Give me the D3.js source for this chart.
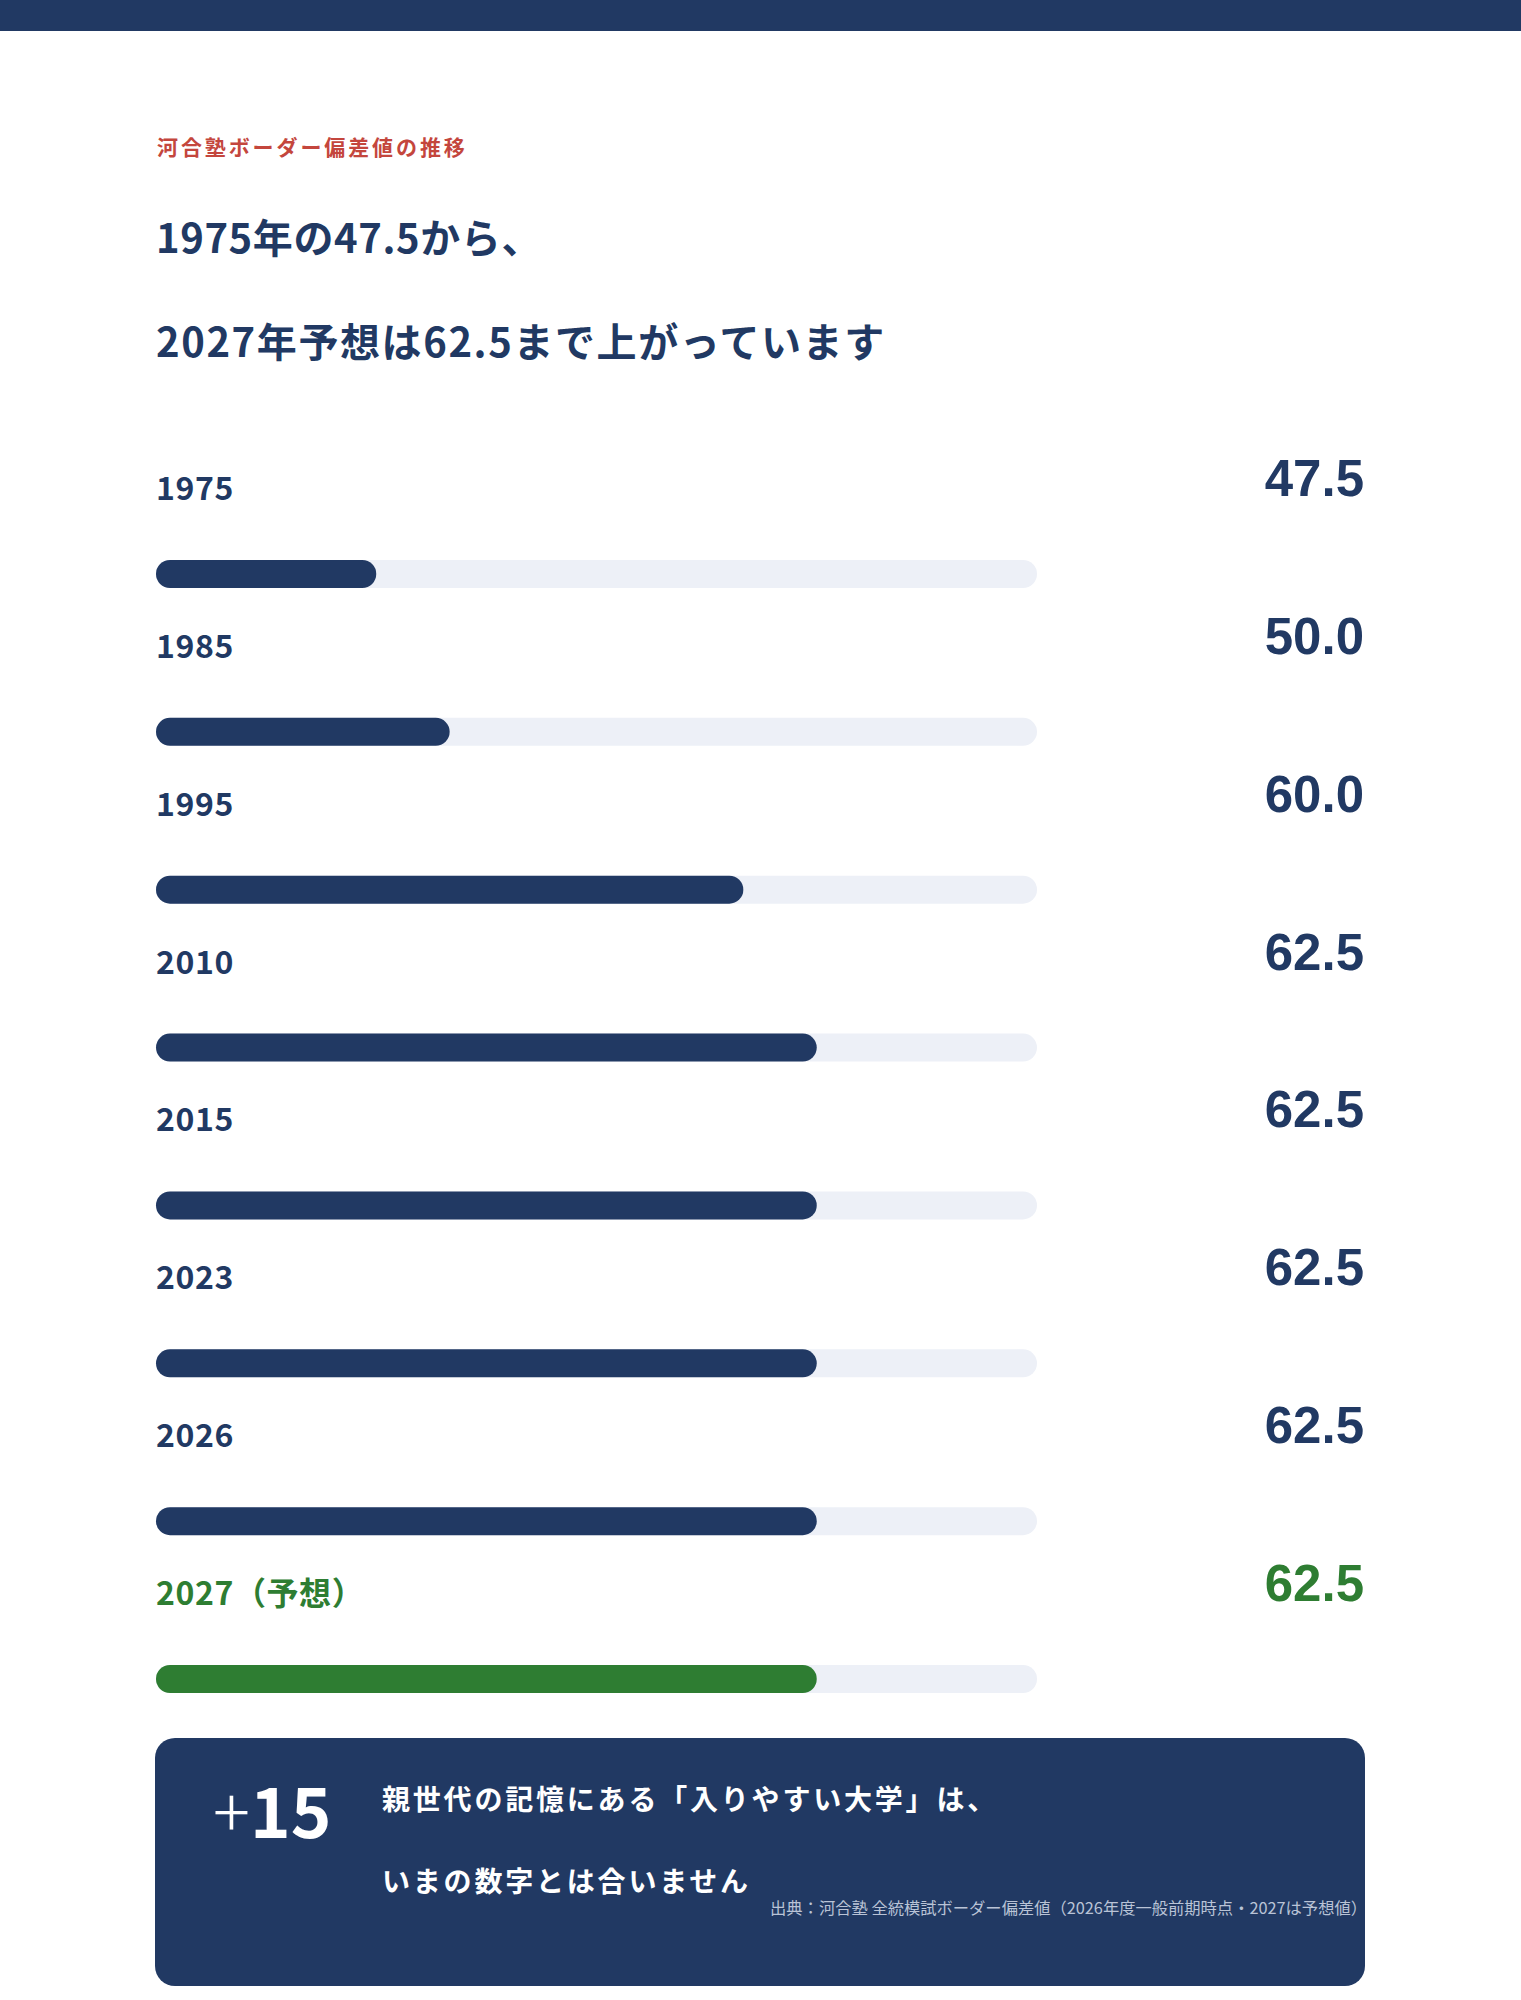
<!DOCTYPE html>
<html>
<head>
<meta charset="utf-8">
<script src="https://cdn.jsdelivr.net/npm/d3@7"></script>
<style>
  body { margin: 0; background: #fff; }
  svg { display: block; }
  text { font-family: "Noto Sans CJK JP", "Noto Sans", sans-serif; }
</style>
</head>
<body>
<div id="chart"></div>
<script>
// data
var years  = ["1975", "1985", "1995", "2010", "2015", "2023", "2026", "2027（予想）"];
var values = [47.5, 50.0, 60.0, 62.5, 62.5, 62.5, 62.5, 62.5];
var forecast = [false, false, false, false, false, false, false, true];

var eyebrow = "河合塾ボーダー偏差値の推移";
var headline = ["1975年の47.5から、", "2027年予想は62.5まで上がっています"];
var calloutBig = "15";
var calloutText = ["親世代の記憶にある「入りやすい大学」は、", "いまの数字とは合いません"];
var sourceText = "出典：河合塾 全統模試ボーダー偏差値（2026年度一般前期時点・2027は予想値）";

var W = 1521, H = 2000;
var navy = "#213963", green = "#2e7d32", track = "#edf0f7", red = "#c4463d";

var svg = d3.select("#chart")
  .append("svg")
    .attr("width", W)
    .attr("height", H);

// top band
svg.append("rect")
  .attr("x", 0).attr("y", 0)
  .attr("width", W).attr("height", 31)
  .attr("fill", navy);

// eyebrow + headline
svg.append("text")
  .attr("x", 157).attr("y", 155)
  .attr("font-size", 21)
  .attr("font-weight", 700)
  .attr("letter-spacing", 2.9)
  .attr("fill", red)
  .text(eyebrow);

svg.selectAll("text.head")
  .data(headline)
  .enter()
  .append("text")
    .attr("class", "head")
    .attr("x", 156)
    .attr("y", function(d, i) { return 253 + i * 104; })
    .attr("font-size", 40)
    .attr("font-weight", 700)
    .attr("letter-spacing", function(d, i) { return i ? 1.6 : 0.6; })
    .attr("fill", navy)
    .text(function(d) { return d; });

// scales
var x = d3.scaleLinear()
  .domain([40, 70])
  .range([156, 1037]);

var y = d3.scaleLinear()
  .domain([0, years.length - 1])
  .range([560, 1665]);

var barH = 28;

var rows = svg.selectAll("g.row")
  .data(years.map(function(d, i) { return {year: d, v: values[i], f: forecast[i]}; }))
  .enter()
  .append("g")
    .attr("class", "row")
    .attr("transform", function(d, i) { return "translate(0," + y(i) + ")"; });

rows.append("rect")
  .attr("x", x(40))
  .attr("y", 0)
  .attr("width", x(70) - x(40))
  .attr("height", barH)
  .attr("rx", barH / 2)
  .attr("fill", track);

rows.append("rect")
  .attr("x", x(40))
  .attr("y", 0)
  .attr("width", function(d) { return x(d.v) - x(40); })
  .attr("height", barH)
  .attr("rx", barH / 2)
  .attr("fill", function(d) { return d.f ? green : navy; });

rows.append("text")
  .attr("x", 156)
  .attr("y", -60)
  .attr("font-size", 32)
  .attr("font-weight", 700)
  .attr("letter-spacing", 0.6)
  .attr("fill", function(d) { return d.f ? green : navy; })
  .text(function(d) { return d.year; });

rows.append("text")
  .attr("x", 1364)
  .attr("y", -64)
  .attr("text-anchor", "end")
  .attr("font-size", 51)
  .attr("font-weight", 700)
  .style("font-family", "'Liberation Sans', Arial, sans-serif")
  .attr("fill", function(d) { return d.f ? green : navy; })
  .text(function(d) { return d.v.toFixed(1); });

// callout box
svg.append("rect")
  .attr("x", 155).attr("y", 1738)
  .attr("width", 1210).attr("height", 248)
  .attr("rx", 20)
  .attr("fill", navy);

var big = svg.append("text")
  .attr("x", 213).attr("y", 1838)
  .attr("font-size", 69)
  .attr("font-weight", 700)
  .attr("fill", "#fff");
big.append("tspan").attr("font-weight", 300).text("+");
big.append("tspan").text(calloutBig);

svg.selectAll("text.call")
  .data(calloutText)
  .enter()
  .append("text")
    .attr("class", "call")
    .attr("x", 382)
    .attr("y", function(d, i) { return 1810 + i * 82; })
    .attr("font-size", 28)
    .attr("font-weight", 700)
    .attr("letter-spacing", 2.8)
    .attr("fill", "#fff")
    .text(function(d) { return d; });

svg.append("text")
  .attr("x", 1367).attr("y", 1914)
  .attr("text-anchor", "end")
  .attr("font-size", 16.3)
  .attr("fill", "#b9c3d6")
  .text(sourceText);
</script>
</body>
</html>
